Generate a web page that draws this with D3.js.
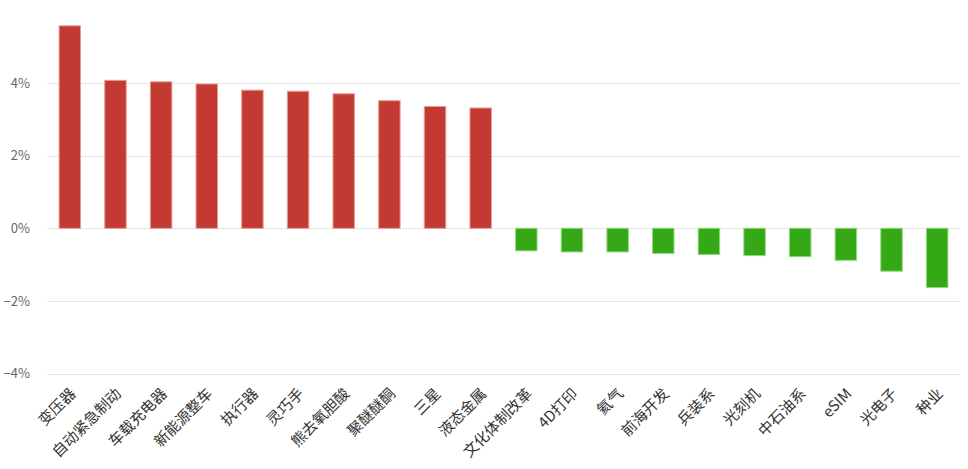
<!DOCTYPE html>
<html><head><meta charset="utf-8">
<script src="https://cdn.jsdelivr.net/npm/d3@7"></script>
<style>html,body{margin:0;padding:0;background:#fff;}svg{display:block;}</style>
</head><body>
<svg id="c" width="968" height="469"></svg>
<script>
const categories = ["变压器","自动紧急制动","车载充电器","新能源整车","执行器","灵巧手","熊去氧胆酸","聚醚醚酮","三星","液态金属","文化体制改革","4D打印","氦气","前海开发","兵装系","光刻机","中石油系","eSIM","光电子","种业"];
const values = [5.57,4.07,4.03,3.97,3.80,3.77,3.70,3.51,3.35,3.31,-0.62,-0.65,-0.65,-0.69,-0.72,-0.75,-0.78,-0.88,-1.18,-1.63];
const yTicks = [-4,-2,0,2,4];

const svg = d3.select("#c");
const left = 47, right = 960;
const x = d3.scaleBand().domain(categories).range([left, right]).paddingInner(0.53).paddingOuter(0.265);
const y = d3.scaleLinear().domain([-4, 5.57]).range([373.7, 373.7 - 9.57*36.35]);

const font = "'Noto Sans CJK SC','Noto Sans',sans-serif";

// gridlines
svg.append("g").selectAll("line").data(yTicks).join("line")
  .attr("x1", left).attr("x2", right)
  .attr("y1", d => Math.round(y(d)) + 0.5).attr("y2", d => Math.round(y(d)) + 0.5)
  .attr("stroke", "#e6e6e6").attr("stroke-width", 1);

// y axis labels
const yAxis = d3.axisLeft(y).tickValues(yTicks).tickSize(0).tickPadding(0)
  .tickFormat(d => (d < 0 ? "\u2212" + Math.abs(d) : d) + "%");
const ya = svg.append("g").attr("transform", "translate(30,0)").call(yAxis);
ya.select(".domain").remove();
ya.selectAll("text").attr("font-family", font).attr("font-size", 13).attr("fill", "#666");

// bars
svg.append("g").selectAll("rect").data(values).join("rect")
  .attr("x", (d, i) => x(categories[i]))
  .attr("width", x.bandwidth())
  .attr("y", d => y(Math.max(0, d)))
  .attr("height", d => Math.abs(y(d) - y(0)))
  .attr("fill", d => d >= 0 ? "#c23a32" : "#34a915")
  .attr("stroke", d => d >= 0 ? "#e79a94" : "#8fd77c")
  .attr("stroke-width", 1);

// x axis labels
const xAxis = d3.axisBottom(x).tickSize(0).tickPadding(0);
const xa = svg.append("g").attr("transform", "translate(0,380)").call(xAxis);
xa.select(".domain").remove();
xa.selectAll("text")
  .attr("font-family", font).attr("font-size", 15).attr("fill", "#333")
  .attr("text-anchor", "end")
  .attr("dy", "0.35em")
  .attr("transform", "translate(3,11) rotate(-45)");
</script>
</body></html>
